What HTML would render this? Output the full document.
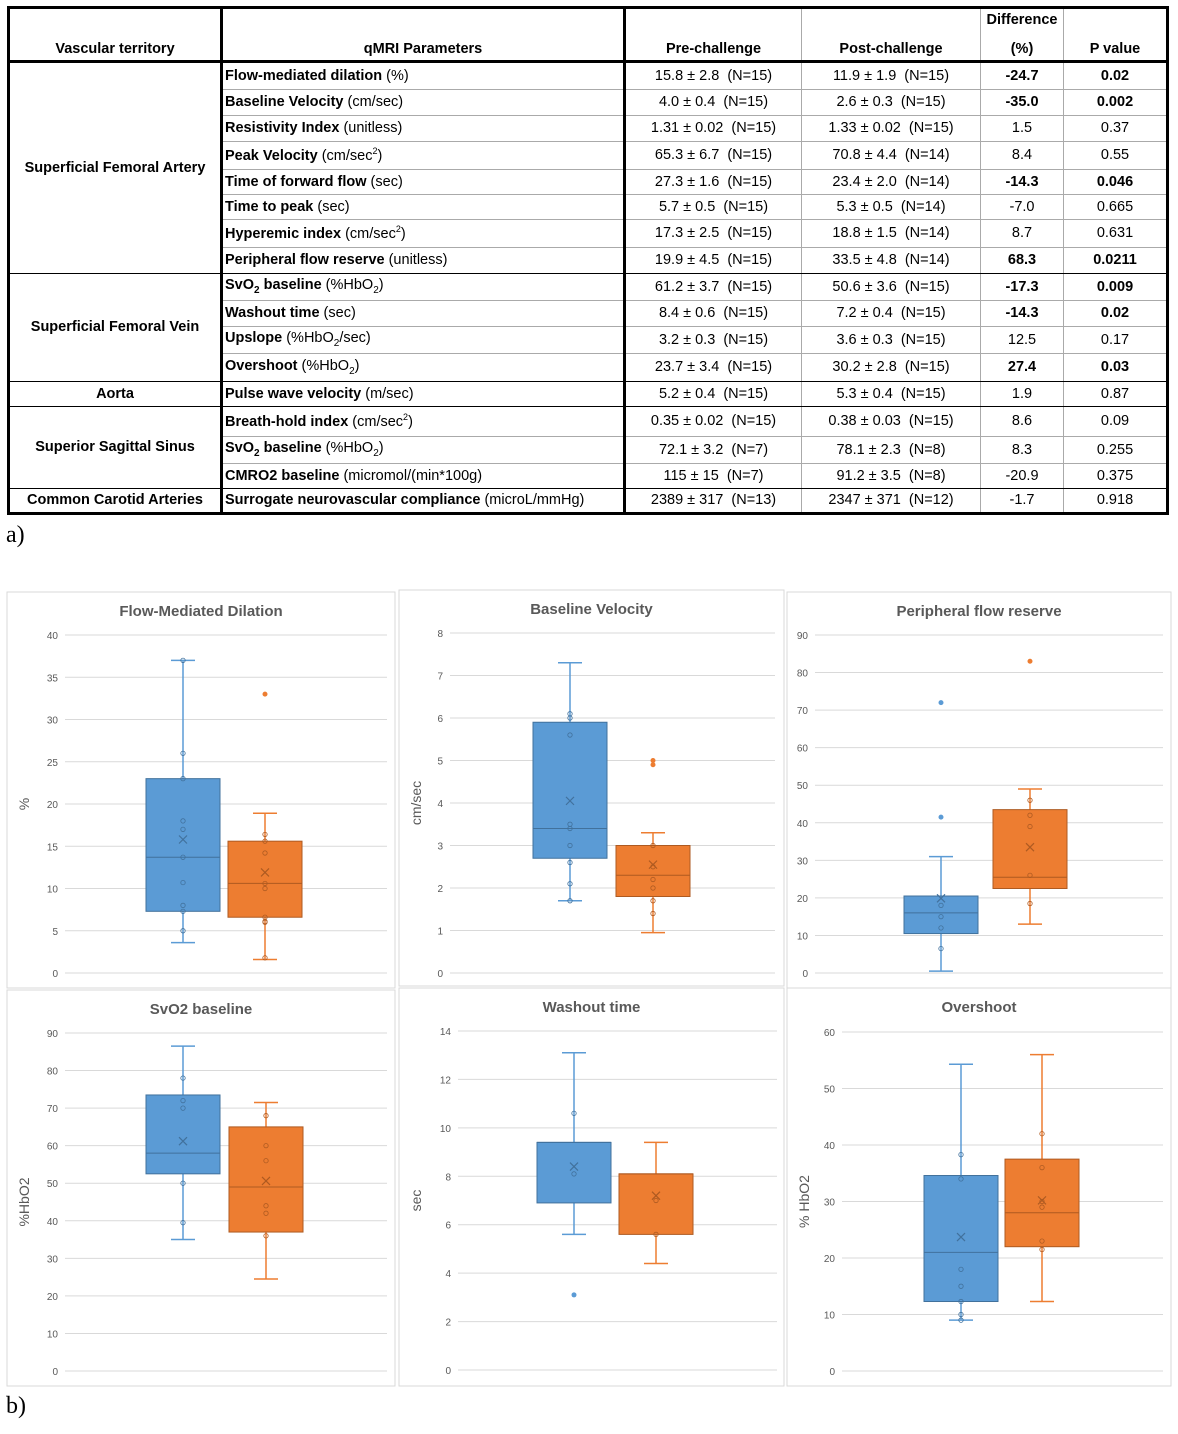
<!DOCTYPE html>
<html><head><meta charset="utf-8"><style>
body{margin:0;width:1178px;height:1434px;background:#fff;position:relative;overflow:hidden;font-family:"Liberation Sans",sans-serif}
table{position:absolute;left:7px;top:6px;border-collapse:collapse;width:1162px;table-layout:fixed;border:3px solid #000;font-size:14.5px;color:#000}
td,th{padding:0 2px;border:1px solid #aaa;white-space:nowrap;line-height:1;overflow:hidden}
th{font-weight:bold;vertical-align:bottom;padding-bottom:4px;border-bottom:3px solid #000;border-left:1px solid #000}
td.g{font-weight:bold;text-align:center;border-left:0;border-bottom:1px solid #000}
td.p{border-left:3px solid #000}
td.c{text-align:center;border-left:1px solid #000}
td.pre{border-left:3px solid #000;text-align:center}
tr.gl td{border-bottom:1px solid #000}
b{font-weight:bold}
.lab{position:absolute;font-family:"Liberation Serif",serif;font-size:24px}
svg text{font-family:"Liberation Sans",sans-serif}
</style></head><body>
<table>
<colgroup><col style="width:213px"><col style="width:403px"><col style="width:177px"><col style="width:179px"><col style="width:83px"><col></colgroup>
<tr style="height:54px"><th style="border-left:0">Vascular territory</th><th style="border-left:3px solid #000">qMRI Parameters</th><th style="border-left:3px solid #000">Pre-challenge</th><th>Post-challenge</th><th>Difference<br><br>(%)</th><th>P value</th></tr>
<tr style="height:28px"><td class="g" rowspan="8">Superficial Femoral Artery</td><td class="p"><b>Flow-mediated dilation</b> (%)</td><td class="pre">15.8 ± 2.8 &nbsp;(N=15)</td><td class="c">11.9 ± 1.9 &nbsp;(N=15)</td><td class="c"><b>-24.7</b></td><td class="c"><b>0.02</b></td></tr>
<tr style="height:26px"><td class="p"><b>Baseline Velocity</b> (cm/sec)</td><td class="pre">4.0 ± 0.4 &nbsp;(N=15)</td><td class="c">2.6 ± 0.3 &nbsp;(N=15)</td><td class="c"><b>-35.0</b></td><td class="c"><b>0.002</b></td></tr>
<tr style="height:26px"><td class="p"><b>Resistivity Index</b> (unitless)</td><td class="pre">1.31 ± 0.02 &nbsp;(N=15)</td><td class="c">1.33 ± 0.02 &nbsp;(N=15)</td><td class="c">1.5</td><td class="c">0.37</td></tr>
<tr style="height:28px"><td class="p"><b>Peak Velocity</b> (cm/sec<sup style="font-size:9px">2</sup>)</td><td class="pre">65.3 ± 6.7 &nbsp;(N=15)</td><td class="c">70.8 ± 4.4 &nbsp;(N=14)</td><td class="c">8.4</td><td class="c">0.55</td></tr>
<tr style="height:25px"><td class="p"><b>Time of forward flow</b> (sec)</td><td class="pre">27.3 ± 1.6 &nbsp;(N=15)</td><td class="c">23.4 ± 2.0 &nbsp;(N=14)</td><td class="c"><b>-14.3</b></td><td class="c"><b>0.046</b></td></tr>
<tr style="height:25px"><td class="p"><b>Time to peak</b> (sec)</td><td class="pre">5.7 ± 0.5 &nbsp;(N=15)</td><td class="c">5.3 ± 0.5 &nbsp;(N=14)</td><td class="c">-7.0</td><td class="c">0.665</td></tr>
<tr style="height:28px"><td class="p"><b>Hyperemic index</b> (cm/sec<sup style="font-size:9px">2</sup>)</td><td class="pre">17.3 ± 2.5 &nbsp;(N=15)</td><td class="c">18.8 ± 1.5 &nbsp;(N=14)</td><td class="c">8.7</td><td class="c">0.631</td></tr>
<tr style="height:26px" class="gl"><td class="p"><b>Peripheral flow reserve</b> (unitless)</td><td class="pre">19.9 ± 4.5 &nbsp;(N=15)</td><td class="c">33.5 ± 4.8 &nbsp;(N=14)</td><td class="c"><b>68.3</b></td><td class="c"><b>0.0211</b></td></tr>
<tr style="height:27px"><td class="g" rowspan="4">Superficial Femoral Vein</td><td class="p"><b>SvO<sub style="font-size:10px">2</sub> baseline</b> (%HbO<sub style="font-size:10px">2</sub>)</td><td class="pre">61.2 ± 3.7 &nbsp;(N=15)</td><td class="c">50.6 ± 3.6 &nbsp;(N=15)</td><td class="c"><b>-17.3</b></td><td class="c"><b>0.009</b></td></tr>
<tr style="height:26px"><td class="p"><b>Washout time</b> (sec)</td><td class="pre">8.4 ± 0.6 &nbsp;(N=15)</td><td class="c">7.2 ± 0.4 &nbsp;(N=15)</td><td class="c"><b>-14.3</b></td><td class="c"><b>0.02</b></td></tr>
<tr style="height:27px"><td class="p"><b>Upslope</b> (%HbO<sub style="font-size:10px">2</sub>/sec)</td><td class="pre">3.2 ± 0.3 &nbsp;(N=15)</td><td class="c">3.6 ± 0.3 &nbsp;(N=15)</td><td class="c">12.5</td><td class="c">0.17</td></tr>
<tr style="height:28px" class="gl"><td class="p"><b>Overshoot</b> (%HbO<sub style="font-size:10px">2</sub>)</td><td class="pre">23.7 ± 3.4 &nbsp;(N=15)</td><td class="c">30.2 ± 2.8 &nbsp;(N=15)</td><td class="c"><b>27.4</b></td><td class="c"><b>0.03</b></td></tr>
<tr style="height:25px" class="gl"><td class="g">Aorta</td><td class="p"><b>Pulse wave velocity</b> (m/sec)</td><td class="pre">5.2 ± 0.4 &nbsp;(N=15)</td><td class="c">5.3 ± 0.4 &nbsp;(N=15)</td><td class="c">1.9</td><td class="c">0.87</td></tr>
<tr style="height:30px"><td class="g" rowspan="3">Superior Sagittal Sinus</td><td class="p"><b>Breath-hold index</b> (cm/sec<sup style="font-size:9px">2</sup>)</td><td class="pre">0.35 ± 0.02 &nbsp;(N=15)</td><td class="c">0.38 ± 0.03 &nbsp;(N=15)</td><td class="c">8.6</td><td class="c">0.09</td></tr>
<tr style="height:27px"><td class="p"><b>SvO<sub style="font-size:10px">2</sub> baseline</b> (%HbO<sub style="font-size:10px">2</sub>)</td><td class="pre">72.1 ± 3.2 &nbsp;(N=7)</td><td class="c">78.1 ± 2.3 &nbsp;(N=8)</td><td class="c">8.3</td><td class="c">0.255</td></tr>
<tr style="height:25px" class="gl"><td class="p"><b>CMRO2 baseline</b> (micromol/(min*100g)</td><td class="pre">115 ± 15 &nbsp;(N=7)</td><td class="c">91.2 ± 3.5 &nbsp;(N=8)</td><td class="c">-20.9</td><td class="c">0.375</td></tr>
<tr style="height:25px"><td class="g" style="border-bottom:0">Common Carotid Arteries</td><td class="p"><b>Surrogate neurovascular compliance</b> (microL/mmHg)</td><td class="pre">2389 ± 317 &nbsp;(N=13)</td><td class="c">2347 ± 371 &nbsp;(N=12)</td><td class="c">-1.7</td><td class="c">0.918</td></tr>
</table>
<div class="lab" style="left:6px;top:522px">a)</div>
<div class="lab" style="left:6px;top:1393px">b)</div>
<svg id="charts" width="1178" height="1434" style="position:absolute;left:0;top:0"></svg>
<script>
// chart titles and axes
const titles=["Flow-Mediated Dilation","Baseline Velocity","Peripheral flow reserve","SvO2 baseline","Washout time","Overshoot"];
const yLabels=["%","cm/sec","","%HbO2","sec","% HbO2"];
const yMax=[40,8,90,90,14,60];
const yStep=[5,1,10,10,2,10];
// box stats: [whiskerLow, q1, median, q3, whiskerHigh, mean]
const preStats=[[3.6,7.3,13.7,23,37,15.8],[1.7,2.7,3.4,5.9,7.3,4.05],[0.5,10.5,16,20.5,31,19.9],[35,52.5,58,73.5,86.5,61.2],[5.6,6.9,9.4,9.4,13.1,8.4],[9,12.3,21,34.6,54.3,23.7]];
const postStats=[[1.6,6.6,10.6,15.6,18.9,11.9],[0.95,1.8,2.3,3.0,3.3,2.55],[13,22.5,25.5,43.5,49,33.5],[24.5,37,49,65,71.5,50.6],[4.4,5.6,8.1,8.1,9.4,7.2],[12.3,22,28,37.5,56,30.2]];
// individual points
const prePts=[[37,26,23,18,17,13.7,10.7,8,7.3,5],[6.1,6.0,5.6,3.5,3.4,3.0,2.6,2.1,1.7],[18,15,12,6.5],[78,72,70,50,39.5],[10.6,8.1],[38.3,34,18,15,12.3,10,9]];
const postPts=[[16.4,15.6,14.2,10.6,10,6.6,6.1,6.0,1.8],[3.0,2.5,2.2,2.0,1.7,1.4],[46,42,39,26,18.5],[68,60,56,44,42,36],[7.0,5.6],[42,36,30,29,23,21.5]];
const preOut=[[],[],[72,41.5],[],[3.1],[]];
const postOut=[[33],[5.0,4.9],[83],[],[],[]];
// layout
const panels=[[7,592,388,396],[399,590,385,396],[787,592,384,396],[7,990,388,396],[399,988,385,398],[787,988,384,398]];
const plots=[[65,973,387,635,183,265],[450,973,775,633,570,653],[815,973,1163,635,941,1030],[65,1371,387,1033,183,266],[458,1370,777,1031,574,656],[842,1371,1163,1032,961,1042]];
const svg=document.getElementById('charts');
const NS='http://www.w3.org/2000/svg';
function mk(t,a,p){const e=document.createElementNS(NS,t);for(const k in a)e.setAttribute(k,a[k]);(p||svg).appendChild(e);return e;}
const colors=[{f:'#5b9bd5',s:'#41719c'},{f:'#ed7d31',s:'#ae5a21'}];
for(let i=0;i<6;i++){
  const g=mk('g',{});
  
  
  const [px,py,pw,ph]=panels[i];
  mk('rect',{x:px,y:py,width:pw,height:ph,fill:'#fff',stroke:'#d9d9d9'},g);
  const [x0,yb,x1,yt,c1,c2]=plots[i];
  const Y=v=>yb-(v/yMax[i])*(yb-yt);
  const tt=mk('text',{x:px+pw/2,y:py+24,'text-anchor':'middle','font-size':15,'font-weight':'bold',fill:'#595959'},g);tt.textContent=titles[i];
  
  
  for(let v=0;v<=yMax[i]+1e-9;v+=yStep[i]){
    mk('line',{x1:x0,x2:x1,y1:Y(v),y2:Y(v),stroke:'#d9d9d9'},g);
    const t=mk('text',{x:x0-7,y:Y(v)+4,'text-anchor':'end','font-size':10,fill:'#595959'},g);t.textContent=v;
  }
  if(yLabels[i]){const yl=mk('text',{x:px+22,y:(yb+yt)/2,'text-anchor':'middle','font-size':14,fill:'#595959',transform:`rotate(-90 ${px+22} ${(yb+yt)/2})`},g);yl.textContent=yLabels[i];
  
  }
  [[preStats,prePts,preOut,c1,'pre'],[postStats,postPts,postOut,c2,'post']].forEach(([S,P,O,cx,nm],k)=>{
    const s=S[i],c=colors[k],hw=37;
    const bg=mk('g',{},g);
    
    
    mk('line',{x1:cx,x2:cx,y1:Y(s[0]),y2:Y(s[4]),stroke:c.f,'stroke-width':1.5},bg);
    mk('line',{x1:cx-12,x2:cx+12,y1:Y(s[0]),y2:Y(s[0]),stroke:c.f,'stroke-width':1.5},bg);
    mk('line',{x1:cx-12,x2:cx+12,y1:Y(s[4]),y2:Y(s[4]),stroke:c.f,'stroke-width':1.5},bg);
    mk('rect',{x:cx-hw,y:Y(s[3]),width:2*hw,height:Math.max(1,Y(s[1])-Y(s[3])),fill:c.f,stroke:c.s},bg);
    mk('line',{x1:cx-hw,x2:cx+hw,y1:Y(s[2]),y2:Y(s[2]),stroke:c.s},bg);
    const m=Y(s[5]);
    mk('path',{d:`M${cx-4} ${m-4}L${cx+4} ${m+4}M${cx-4} ${m+4}L${cx+4} ${m-4}`,stroke:c.s,'stroke-width':1.2},bg);
    P[i].forEach(v=>mk('circle',{cx:cx,cy:Y(v),r:2.2,fill:'none',stroke:c.s,'stroke-width':0.8},bg));
    O[i].forEach(v=>mk('circle',{cx:cx,cy:Y(v),r:2.5,fill:c.f},bg));
  });
}
</script>
</body></html>
